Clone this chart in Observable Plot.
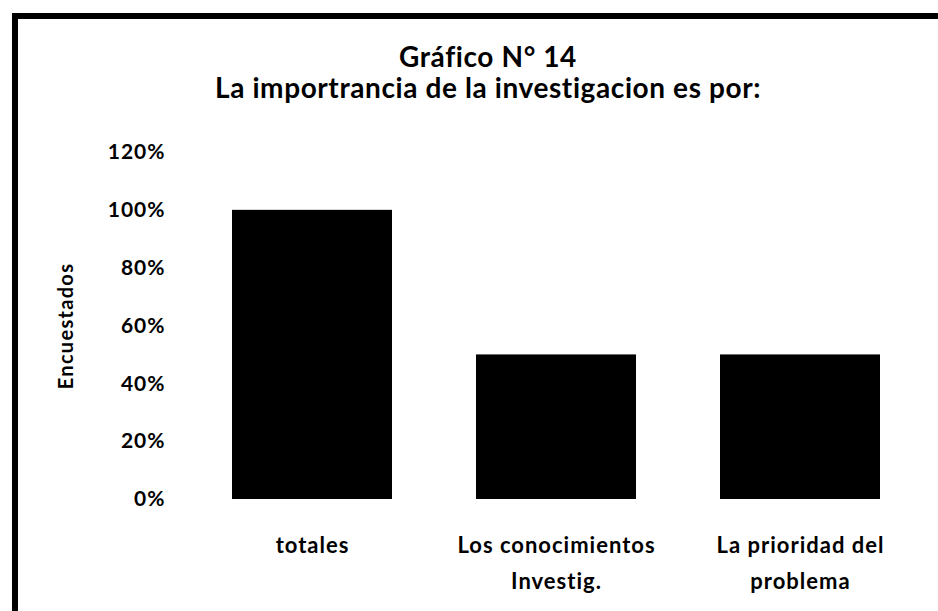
<!DOCTYPE html>
<html><head><meta charset="utf-8">
<script src="https://cdn.jsdelivr.net/npm/d3@7"></script>
<script src="https://cdn.jsdelivr.net/npm/@observablehq/plot@0.6"></script>
<style>
body{margin:0;background:#fff;}
#wrap{position:relative;width:938px;height:611px;overflow:hidden;font-family:Lato,"Open Sans",sans-serif;}
#frame{position:absolute;left:12px;top:13px;width:940px;height:620px;border-left:6px solid #000;border-top:6px solid #000;}
.t{position:absolute;left:0;width:976px;text-align:center;font-weight:bold;font-size:28px;line-height:30px;letter-spacing:0.6px;color:#000;}
#chart{position:absolute;left:0;top:0;}
g[aria-label="x-axis tick label"] text{letter-spacing:1px;}
g[aria-label="y-axis tick label"] text{letter-spacing:1px;}
g[aria-label="y-axis label"] text{font-size:20px;letter-spacing:1.3px;}
</style></head>
<body>
<div id="wrap">
  <div id="frame"></div>
  <div class="t" style="top:41px">Gráfico N° 14</div>
  <div class="t" style="top:72px">La importrancia de la investigacion es por:</div>
  <div id="chart"></div>
</div>
<script>
const categorias = ["totales", "Los conocimientos\nInvestig.", "La prioridad del\nproblema"];
const valores = [100, 50, 50];
const ticksY = [0, 20, 40, 60, 80, 100, 120];
const etiquetaY = "Encuestados";

const data = categorias.map((c, i) => ({c, v: valores[i]}));

const chart = Plot.plot({
  width: 938,
  height: 611,
  marginLeft: 190,
  marginRight: 16,
  marginTop: 152,
  marginBottom: 112,
  style: {fontFamily: "Lato, 'Open Sans', sans-serif", fontWeight: "bold", color: "#000", background: "transparent"},
  x: {domain: categorias, paddingInner: 0.344, paddingOuter: 0.172, label: null},
  y: {domain: [0, 120], label: null},
  marks: [
    Plot.barY(data, {x: "c", y: "v", fill: "#000"}),
    Plot.axisX({tickSize: 0, tickPadding: 29, lineHeight: 1.6, fontSize: 22, fontWeight: "bold", label: null}),
    Plot.axisY({ticks: ticksY, tickFormat: d => d + "%", tickSize: 0, tickPadding: 25, fontSize: 21, fontWeight: "bold",
      label: etiquetaY, labelAnchor: "center", labelOffset: 132, labelArrow: "none"})
  ]
});
document.getElementById("chart").appendChild(chart);
</script>
</body></html>
